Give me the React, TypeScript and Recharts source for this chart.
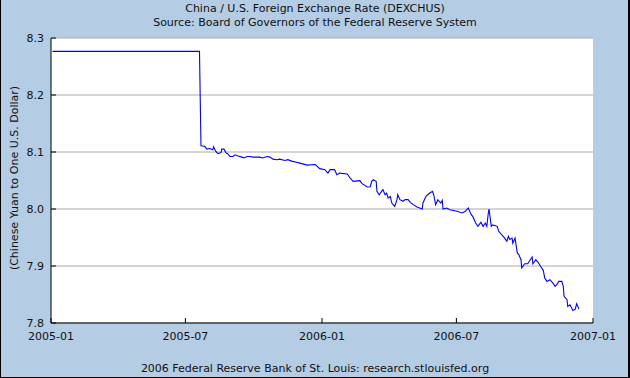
import React from "react";
import { LineChart, Line, XAxis, YAxis, CartesianGrid } from "recharts";

const titleText = "China / U.S. Foreign Exchange Rate (DEXCHUS)";
const subtitleText = "Source: Board of Governors of the Federal Reserve System";
const footerText = "2006 Federal Reserve Bank of St. Louis: research.stlouisfed.org";
const yLabelText = "(Chinese Yuan to One U.S. Dollar)";

const dates = [
  "2005-01-03","2005-03-01","2005-05-02","2005-07-20","2005-07-21","2005-07-22","2005-07-27","2005-07-30",
  "2005-08-03","2005-08-07","2005-08-08","2005-08-11","2005-08-14","2005-08-18","2005-08-19","2005-08-22",
  "2005-08-25","2005-08-27","2005-08-30","2005-09-03","2005-09-06","2005-09-10","2005-09-15","2005-09-18",
  "2005-09-22","2005-09-26","2005-09-30","2005-10-09","2005-10-13","2005-10-19","2005-10-23","2005-10-27",
  "2005-11-01","2005-11-05","2005-11-12","2005-11-16","2005-11-22","2005-11-28","2005-12-02","2005-12-12",
  "2005-12-23","2005-12-29","2006-01-05","2006-01-09","2006-01-12","2006-01-18","2006-01-21","2006-01-25",
  "2006-02-04","2006-02-08","2006-02-12","2006-02-21","2006-02-24","2006-03-03","2006-03-07","2006-03-09",
  "2006-03-11","2006-03-15","2006-03-16","2006-03-19","2006-03-24","2006-03-27","2006-03-29","2006-03-31",
  "2006-04-03","2006-04-05","2006-04-09","2006-04-12","2006-04-13","2006-04-16","2006-04-20","2006-04-23",
  "2006-04-27","2006-04-30","2006-05-04","2006-05-09","2006-05-16","2006-05-17","2006-05-21","2006-05-26",
  "2006-05-30","2006-06-01","2006-06-03","2006-06-06","2006-06-10","2006-06-12","2006-06-13","2006-06-18",
  "2006-06-22","2006-07-02","2006-07-09","2006-07-13","2006-07-17","2006-07-21","2006-07-23","2006-07-27",
  "2006-07-30","2006-08-03","2006-08-06","2006-08-09","2006-08-11","2006-08-13","2006-08-14","2006-08-17",
  "2006-08-19","2006-08-25","2006-08-27","2006-08-31","2006-09-04","2006-09-07","2006-09-09","2006-09-11",
  "2006-09-14","2006-09-15","2006-09-18","2006-09-21","2006-09-23","2006-09-26","2006-09-27","2006-10-01",
  "2006-10-05","2006-10-11","2006-10-12","2006-10-16","2006-10-19","2006-10-23","2006-10-26","2006-10-28",
  "2006-10-31","2006-11-04","2006-11-08","2006-11-11","2006-11-13","2006-11-16","2006-11-20","2006-11-22",
  "2006-11-23","2006-11-27","2006-11-28","2006-12-01","2006-12-05","2006-12-08","2006-12-10","2006-12-13",
];

const rates = [
  8.2765, 8.2765, 8.2765, 8.2765, 8.193, 8.111, 8.11, 8.105,
  8.106, 8.104, 8.109, 8.101, 8.097, 8.099, 8.105, 8.105,
  8.098, 8.097, 8.092, 8.092, 8.095, 8.093, 8.091, 8.0895,
  8.092, 8.092, 8.091, 8.091, 8.0895, 8.092, 8.091, 8.0875,
  8.0865, 8.0875, 8.085, 8.0865, 8.0836, 8.082, 8.0805, 8.077,
  8.078, 8.0708, 8.069, 8.063, 8.069, 8.069, 8.06, 8.063,
  8.0614, 8.054, 8.0485, 8.0497, 8.0444, 8.0386, 8.039, 8.0485,
  8.0515, 8.0485, 8.031, 8.025, 8.034, 8.025, 8.028, 8.019,
  8.022, 8.0105, 8.0047, 8.0164, 8.025, 8.0164, 8.0135, 8.0164,
  8.0164, 8.0117, 8.0076, 8.0035, 8.0, 8.0105, 8.0222, 8.028,
  8.031, 8.022, 8.0076, 8.0164, 8.0105, 8.0152, 8.0, 8.0018,
  7.9988, 7.996, 7.993, 7.996, 8.0018, 7.99, 7.987, 7.9754,
  7.9696, 7.9766, 7.9696, 7.9754, 7.9696, 7.993, 8.0, 7.9696,
  7.972, 7.9696, 7.9608, 7.955, 7.949, 7.9433, 7.952, 7.9467,
  7.949, 7.94, 7.949, 7.923, 7.92, 7.911, 7.8965, 7.904,
  7.904, 7.9158, 7.904, 7.911, 7.9065, 7.8982, 7.8924, 7.879,
  7.873, 7.876, 7.87, 7.8643, 7.867, 7.873, 7.873, 7.8643,
  7.8468, 7.841, 7.829, 7.832, 7.822, 7.824, 7.834, 7.8245,
];

const xTickLabels = ["2005-01", "2005-07", "2006-01", "2006-07", "2007-01"];
const yTicks = [7.8, 7.9, 8.0, 8.1, 8.2, 8.3];

const toTime = (s: string) => {
  const p = s.split("-").map(Number);
  return Date.UTC(p[0], p[1] - 1, p[2] || 1);
};

const data = dates.map((d, i) => ({ t: toTime(d), v: rates[i] }));
const xTicks = xTickLabels.map((l) => toTime(l));
const labelFor = (t: number) => xTickLabels[xTicks.indexOf(t)] ?? "";

const FONT = "'DejaVu Sans', Verdana, sans-serif";
const BG = "#B4CCE4";

const YTick = (props: any) => {
  const { x, y, payload } = props;
  return (
    <g>
      <line x1={x} x2={x + 5} y1={y} y2={y} stroke="#000" strokeWidth={1} />
      <text x={x - 7} y={y} textAnchor="end" dominantBaseline="central" fontSize={11} fontFamily={FONT} fill="#111">
        {Number(payload.value).toFixed(1)}
      </text>
    </g>
  );
};

const XTick = (props: any) => {
  const { x, y, payload } = props;
  return (
    <g>
      <line x1={x} x2={x} y1={y} y2={y - 5} stroke="#000" strokeWidth={1} />
      <text x={x} y={y + 17} textAnchor="middle" fontSize={11} fontFamily={FONT} fill="#111">
        {labelFor(payload.value)}
      </text>
    </g>
  );
};

export default function App() {
  return (
    <div style={{ position: "absolute", left: 0, top: 0, width: 630, height: 378, background: BG, fontFamily: FONT, color: "#111" }}>
      <div style={{ position: "absolute", top: 2, left: 0, width: 630, textAlign: "center", fontSize: 11, lineHeight: "14px" }}>
        {titleText}
      </div>
      <div style={{ position: "absolute", top: 16, left: 0, width: 630, textAlign: "center", fontSize: 11, lineHeight: "14px" }}>
        {subtitleText}
      </div>
      <div style={{ position: "absolute", top: 362, left: 0, width: 630, textAlign: "center", fontSize: 11, lineHeight: "14px" }}>
        {footerText}
      </div>
      <div
        style={{
          position: "absolute",
          left: 15 - 120,
          top: 178 - 7,
          width: 240,
          height: 14,
          lineHeight: "14px",
          textAlign: "center",
          fontSize: 11,
          transform: "rotate(-90deg)",
          transformOrigin: "50% 50%",
          whiteSpace: "nowrap",
        }}
      >
        {yLabelText}
      </div>
      <div style={{ position: "absolute", left: 0, top: 0 }}>
        <LineChart width={630} height={378} data={data} margin={{ top: 38, right: 37, bottom: 35, left: 11 }}>
          <CartesianGrid horizontal={true} vertical={false} stroke="#AAAAAA" fill="#FFFFFF" />
          <XAxis
            dataKey="t"
            type="number"
            scale="linear"
            domain={[xTicks[0], xTicks[xTicks.length - 1]]}
            ticks={xTicks}
            interval={0}
            height={20}
            tickSize={0}
            tickMargin={0}
            tickLine={false}
            axisLine={{ stroke: "#000", strokeWidth: 1 }}
            tick={<XTick />}
            allowDataOverflow
          />
          <YAxis
            type="number"
            domain={[7.8, 8.3]}
            ticks={yTicks}
            interval={0}
            width={40}
            tickSize={0}
            tickMargin={0}
            tickLine={false}
            axisLine={{ stroke: "#000", strokeWidth: 1 }}
            tick={<YTick />}
            allowDataOverflow
          />
          <Line type="linear" dataKey="v" stroke="#0000FF" strokeWidth={1.1} dot={false} isAnimationActive={false} />
        </LineChart>
      </div>
      <div
        style={{
          position: "absolute",
          left: 0,
          top: 0,
          width: 630,
          height: 378,
          boxSizing: "border-box",
          borderLeft: "1px solid #000",
          borderRight: "2px solid #000",
          borderBottom: "1px solid #000",
          pointerEvents: "none",
        }}
      />
    </div>
  );
}
